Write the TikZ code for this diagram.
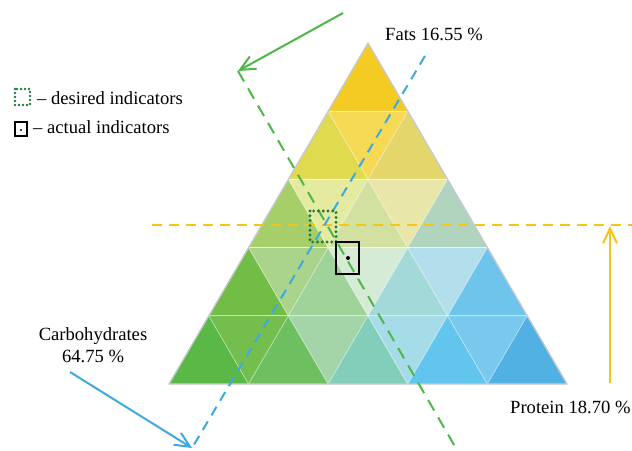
\documentclass[tikz,border=0pt]{standalone}
\usepackage{fontspec}
\setmainfont{Liberation Serif}
\usetikzlibrary{arrows.meta}
\definecolor{cA}{HTML}{F4CB22}
\definecolor{cBa}{HTML}{E0DA4E}
\definecolor{cBb}{HTML}{F6D955}
\definecolor{cBc}{HTML}{E4D66A}
\definecolor{cCa}{HTML}{A6CF6A}
\definecolor{cCb}{HTML}{E4EAA0}
\definecolor{cCc}{HTML}{D3E1A0}
\definecolor{cCd}{HTML}{E8E6A8}
\definecolor{cCe}{HTML}{B0D4BE}
\definecolor{cDa}{HTML}{72BD46}
\definecolor{cDb}{HTML}{AAD48C}
\definecolor{cDc}{HTML}{9FD39A}
\definecolor{cDd}{HTML}{D5EBD5}
\definecolor{cDe}{HTML}{A4D9D9}
\definecolor{cDf}{HTML}{B3DEEC}
\definecolor{cDg}{HTML}{6FC4EC}
\definecolor{cEa}{HTML}{5AB946}
\definecolor{cEb}{HTML}{74BE4E}
\definecolor{cEc}{HTML}{6DBF60}
\definecolor{cEd}{HTML}{A3D5A8}
\definecolor{cEe}{HTML}{83CEBB}
\definecolor{cEf}{HTML}{A6DCE8}
\definecolor{cEg}{HTML}{62C5EE}
\definecolor{cEh}{HTML}{79C9EF}
\definecolor{cEi}{HTML}{51B1E2}
\definecolor{lyellow}{HTML}{F5C518}
\definecolor{lblue}{HTML}{3DA9E0}
\definecolor{lgreen}{HTML}{4DB848}
\definecolor{dgreen}{HTML}{1F7A3F}
\definecolor{rim}{HTML}{C4C8D0}
\tikzset{
  lbl/.style={font=\fontsize{18.6bp}{22bp}\selectfont, inner sep=0pt},
  cell/.style={draw=white, draw opacity=0.35, line width=0.8bp},
  dashline/.style={line width=2bp, dash pattern=on 10bp off 7bp},
  pointer/.style={line width=2bp, -{Straight Barb[length=15bp,width=14bp,line width=2bp]}},
  dotbox/.style={draw=dgreen, line width=3.2bp, line cap=round, dash pattern=on 0bp off 4.8bp},
  solidbox/.style={draw=black, line width=1.1bp}
}
\begin{document}
\begin{tikzpicture}[x=1bp,y=-1bp]
\useasboundingbox (0,0) rectangle (632,451);
\foreach \i in {0,...,5}{
  \foreach \j in {0,...,\i}{
    \coordinate (p\i\j) at ({368-\i*39.8+\j*79.6},{43+\i*68.2});
  }
}
% row 1
\fill[cA,cell] (p00) -- (p10) -- (p11) -- cycle;
% row 2
\fill[cBa,cell] (p10) -- (p20) -- (p21) -- cycle;
\fill[cBb,cell] (p10) -- (p11) -- (p21) -- cycle;
\fill[cBc,cell] (p11) -- (p21) -- (p22) -- cycle;
% row 3
\fill[cCa,cell] (p20) -- (p30) -- (p31) -- cycle;
\fill[cCb,cell] (p20) -- (p21) -- (p31) -- cycle;
\fill[cCc,cell] (p21) -- (p31) -- (p32) -- cycle;
\fill[cCd,cell] (p21) -- (p22) -- (p32) -- cycle;
\fill[cCe,cell] (p22) -- (p32) -- (p33) -- cycle;
% row 4
\fill[cDa,cell] (p30) -- (p40) -- (p41) -- cycle;
\fill[cDb,cell] (p30) -- (p31) -- (p41) -- cycle;
\fill[cDc,cell] (p31) -- (p41) -- (p42) -- cycle;
\fill[cDd,cell] (p31) -- (p32) -- (p42) -- cycle;
\fill[cDe,cell] (p32) -- (p42) -- (p43) -- cycle;
\fill[cDf,cell] (p32) -- (p33) -- (p43) -- cycle;
\fill[cDg,cell] (p33) -- (p43) -- (p44) -- cycle;
% row 5
\fill[cEa,cell] (p40) -- (p50) -- (p51) -- cycle;
\fill[cEb,cell] (p40) -- (p41) -- (p51) -- cycle;
\fill[cEc,cell] (p41) -- (p51) -- (p52) -- cycle;
\fill[cEd,cell] (p41) -- (p42) -- (p52) -- cycle;
\fill[cEe,cell] (p42) -- (p52) -- (p53) -- cycle;
\fill[cEf,cell] (p42) -- (p43) -- (p53) -- cycle;
\fill[cEg,cell] (p43) -- (p53) -- (p54) -- cycle;
\fill[cEh,cell] (p43) -- (p44) -- (p54) -- cycle;
\fill[cEi,cell] (p44) -- (p54) -- (p55) -- cycle;
% inner grid lines
\foreach \i in {1,...,4}{
  \draw[white, opacity=0.35, line width=0.8bp] (p\i0) -- (p\i\i);
}
\draw[rim, line width=1.3bp, line join=round] (p00) -- (p50) -- (p55) -- cycle;

% dashed lines and arrows
\coordinate (ystart) at (152,225);
\coordinate (yend) at (632,225);
\coordinate (ytip) at (610,226);
\coordinate (ytail) at (610,383);
\draw[lyellow, dashline] (ystart) -- (yend);
\draw[lyellow, pointer] (ytail) -- (ytip);

\coordinate (btop) at (425,56);
\coordinate (bbot) at (192,448);
\coordinate (btail) at (70,372);
\draw[lblue, dashline] (btop) -- (bbot);
\draw[lblue, pointer] (btail) -- (bbot);

\coordinate (gtop) at (238,71);
\coordinate (gbot) at (457,450);
\coordinate (gtail) at (343,13);
\draw[lgreen, dashline, dash pattern=on 12bp off 8bp] (gtop) -- (gbot);
\draw[lgreen, pointer] (gtail) -- (gtop);

% indicators
\draw[dotbox] (310,211) rectangle (336,242);
\draw[solidbox] (336,242) rectangle (359,274);
\fill[black] (348,258) circle (2bp);

% labels
\node[lbl, anchor=base west] (fats) at (385,41) {Fats 16.55 \%};
\node[lbl, anchor=base] (carb1) at (93,340) {Carbohydrates};
\node[lbl, anchor=base] (carb2) at (93,362) {64.75 \%};
\node[lbl, anchor=base west] (prot) at (510,413) {Protein 18.70 \%};

% legend
\draw[dotbox, line width=2.6bp, dash pattern=on 0bp off 4bp] (15,89) rectangle (30,105);
\node[lbl, anchor=base west] (leg1) at (37,105) {– desired indicators};
\draw[solidbox] (15,122) rectangle (27,136);
\fill[black] (21,130) circle (1.2bp);
\node[lbl, anchor=base west] (leg2) at (33,134) {– actual indicators};
\end{tikzpicture}
\end{document}
